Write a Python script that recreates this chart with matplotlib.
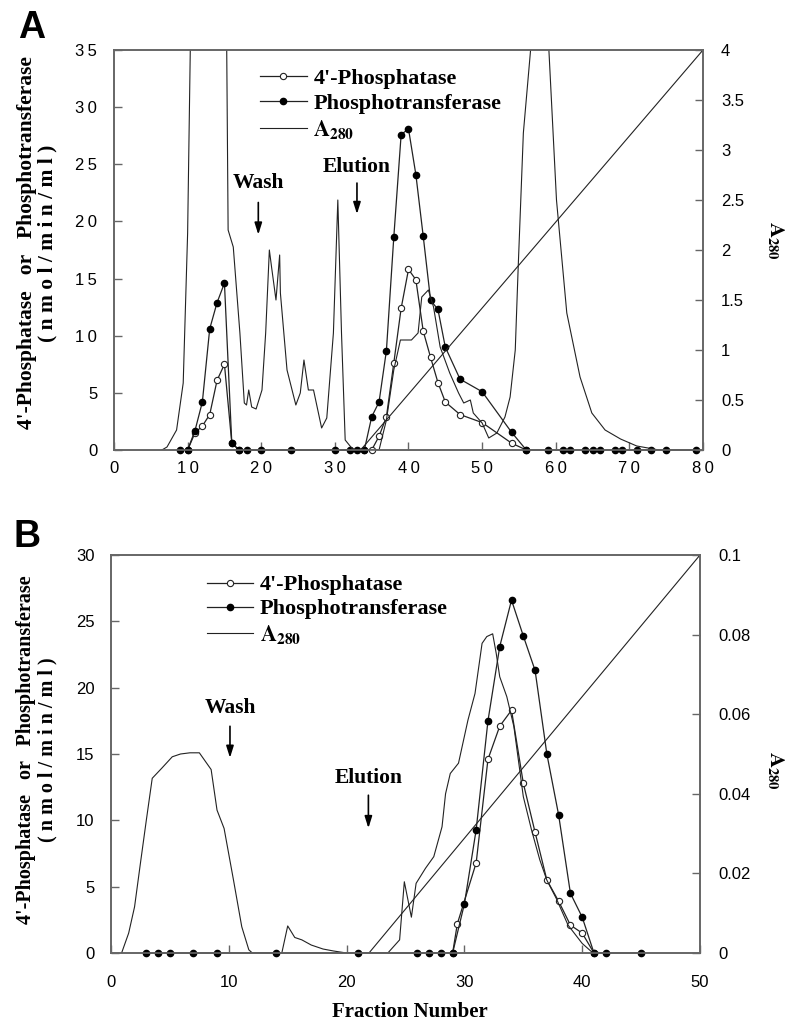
import numpy as np
import matplotlib.pyplot as plt

plt.rcParams['font.family'] = ['Liberation Sans', 'DejaVu Sans']
plt.rcParams['mathtext.fontset'] = 'stix'

# ---- Panel A data ----
a_pt_x = [9, 10, 11, 12, 13, 14, 15, 16, 17, 18, 20, 24, 30, 32, 33, 34, 35, 36, 37, 38, 39, 40,
          41, 42, 43, 44, 45, 47, 50, 54, 56, 59, 61, 62, 64, 65, 66, 68, 69, 71, 73, 75, 79]
a_pt_y = [0, 0, 1.7, 4.2, 10.6, 12.9, 14.6, 0.6, 0, 0, 0, 0, 0, 0, 0, 0, 2.9, 4.2, 8.7, 18.6, 27.6, 28.1,
          24.1, 18.7, 13.1, 12.3, 9.0, 6.2, 5.1, 1.55, 0, 0, 0, 0, 0, 0, 0, 0, 0, 0, 0, 0, 0]
a_ph_x = [10, 11, 12, 13, 14, 15, 16, 17, 34, 35, 36, 37, 38, 39, 40, 41, 42, 43, 44, 45, 47, 50, 54, 56]
a_ph_y = [0, 1.5, 2.1, 3.1, 6.1, 7.5, 0.6, 0, 0, 0, 1.2, 2.9, 7.6, 12.4, 15.8, 14.9, 10.4, 8.1, 5.9, 4.2,
          3.1, 2.4, 0.6, 0]
a_abs_x = [6.5, 7.2, 8.5, 9.4, 10.0, 10.4, 11, 13, 15, 15.3, 15.5, 16.2, 17.1, 17.7, 18.0, 18.3, 18.7,
           19.3, 20.1, 20.6, 21.1, 21.4, 22.0, 22.5, 22.6, 23.5, 24.7, 25.3, 25.8, 26.4, 27.1, 28.2,
           28.9, 29.8, 30.4, 30.9, 31.4, 32.5, 36.0, 37.0, 38.0, 38.9, 40.4, 41.3, 41.8, 42.7, 43.4,
           44.3, 45.6, 46.8, 47.5, 48.4, 48.8, 50.0, 50.9, 52.0, 53.1, 53.8, 54.5, 54.9, 55.6, 56.7,
           57.5, 58.5, 59.0, 60.1, 61.5, 63.3, 64.9, 66.7, 68.8, 71.0, 73.3, 74.0]
a_abs_y = [0, 0.03, 0.2, 0.67, 2.17, 4.2, 6, 7, 5, 4.1, 2.2, 2.03, 1.17, 0.47, 0.45, 0.6, 0.43,
           0.41, 0.6, 1.17, 2.0, 1.83, 1.5, 1.95, 1.57, 0.8, 0.45, 0.57, 0.9, 0.6, 0.6, 0.22,
           0.32, 1.17, 2.5, 1.17, 0.1, 0, 0, 0.3, 0.8, 1.1, 1.1, 1.17, 1.53, 1.6, 1.43,
           1.03, 0.77, 0.57, 0.47, 0.5, 0.37, 0.27, 0.12, 0.17, 0.33, 0.53, 1.0, 1.83, 3.17, 4.1,
           5.5, 5.5, 4.1, 2.5, 1.37, 0.73, 0.37, 0.2, 0.11, 0.04, 0.01, 0]
a_grad_x = [33.5, 80]
a_grad_y = [0, 4]

# ---- Panel B data ----
b_pt_x = [3, 4, 5, 7, 9, 14, 21, 26, 27, 28, 29, 30, 31, 32, 33, 34, 35, 36, 37, 38, 39, 40, 41, 42, 45]
b_pt_y = [0, 0, 0, 0, 0, 0, 0, 0, 0, 0, 0, 3.7, 9.3, 17.5, 23.1, 26.6, 23.9, 21.3, 15.0, 10.4, 4.5,
          2.7, 0, 0, 0]
b_ph_x = [29, 29.4, 31, 32, 33, 34, 35, 36, 37, 38, 39, 40, 41]
b_ph_y = [0, 2.2, 6.8, 14.6, 17.1, 18.3, 12.8, 9.1, 5.5, 3.9, 2.1, 1.5, 0]
b_abs_x = [0.9, 1.5, 2.0, 2.5, 3.0, 3.5, 4.3, 5.2, 5.9, 6.7, 7.5, 8.5, 9.0, 9.6, 10.4, 11.1, 11.7,
           12.0, 14.5, 15.0, 15.6, 16.2, 17.0, 18.0, 18.9, 20.0, 23.5, 24.5, 24.9, 25.5, 25.9, 26.7,
           27.4, 28.1, 28.4, 28.8, 29.5, 30.3, 30.9, 31.5, 31.9, 32.4, 32.7, 33.0, 33.6, 34.2, 35.0,
           35.7, 36.4, 37.0, 37.8, 38.8, 40.0, 40.8, 41.9]
b_abs_y = [0, 0.005, 0.0116, 0.0226, 0.0334, 0.0439, 0.0464, 0.0493, 0.05, 0.0503, 0.0503, 0.0461,
           0.0359, 0.0313, 0.0183, 0.0066, 0.0008, 0, 0, 0.0068, 0.0039, 0.0033, 0.002, 0.001,
           0.0005, 0, 0, 0.0033, 0.0179, 0.009, 0.0175, 0.0213, 0.0242, 0.0317, 0.040, 0.0451,
           0.0477, 0.0585, 0.0652, 0.0778, 0.0795, 0.0802, 0.0753, 0.0694, 0.0644, 0.0569, 0.0393,
           0.0309, 0.0234, 0.0183, 0.0137, 0.007, 0.0024, 0.0003, 0]
b_grad_x = [21.9, 50]
b_grad_y = [0, 0.1]

serif = 'Liberation Serif'
lc = '#222222'
spine_c = '#666666'
a280 = r'$\mathbf{A}_{\mathbf{280}}$'

fig = plt.figure(figsize=(8, 10.31), dpi=100)


def panel(rect, ph_x, ph_y, pt_x, pt_y, ab_x, ab_y, gr_x, gr_y, xmax, ymax, rmax, xpad):
    ax = fig.add_axes(rect)
    ax2 = ax.twinx()
    ax.plot(ph_x, ph_y, '-o', color=lc, lw=0.9, ms=4.5, mfc='white', mec=lc, mew=0.8,
            clip_on=False, zorder=3, label="4'-Phosphatase")
    ax.plot(pt_x, pt_y, '-o', color=lc, lw=0.9, ms=4.5, mfc='black', mec='black',
            clip_on=False, zorder=4, label='Phosphotransferase')
    ax2.plot(ab_x, ab_y, '-', color=lc, lw=0.8, label=a280)
    ax2.plot(gr_x, gr_y, '-', color=lc, lw=0.8)
    ax.set_xlim(0, xmax)
    ax.set_ylim(0, ymax)
    ax2.set_ylim(0, rmax)
    for a in (ax, ax2):
        for s in a.spines.values():
            s.set_color(spine_c)
            s.set_linewidth(1.2)
    ax.tick_params(direction='in', length=6, color=spine_c, labelsize=12, width=1)
    ax.tick_params(axis='y', pad=12)
    ax.tick_params(axis='x', pad=xpad)
    ax2.tick_params(direction='in', length=6, color=spine_c, labelsize=12, width=1, pad=13)
    h1, l1 = ax.get_legend_handles_labels()
    h2, l2 = ax2.get_legend_handles_labels()
    return ax, ax2, h1 + h2, l1 + l2


def arrow(ax, text, x, ytext, y0, y1):
    ax.text(x, ytext, text, family=serif, fontweight='bold', fontsize=15.5, ha='center', va='center')
    ax.annotate('', xy=(x, y1), xytext=(x, y0),
                arrowprops=dict(arrowstyle='-|>,head_length=0.7,head_width=0.22',
                                color='black', lw=1.2))


legend_kw = dict(loc='upper left', frameon=False, handlelength=2.1, handletextpad=0.3,
                 borderpad=0, borderaxespad=0,
                 prop={'family': serif, 'weight': 'bold', 'size': 16})

# ---- Panel A ----
axA, axA2, h, l = panel([114 / 800, 1 - 450 / 1031, 589 / 800, 400 / 1031],
                        a_ph_x, a_ph_y, a_pt_x, a_pt_y, a_abs_x, a_abs_y, a_grad_x, a_grad_y,
                        80, 35, 4, 8)
axA.set_xticks(np.arange(0, 81, 10))
axA.set_xticklabels(['\u2009'.join(str(v)) for v in range(0, 81, 10)])
axA.set_yticks(np.arange(0, 36, 5))
axA.set_yticklabels(['\u2009'.join(str(v)) for v in range(0, 36, 5)])
axA2.set_yticks(np.arange(0, 4.01, 0.5))
axA2.set_yticklabels(['0', '0.5', '1', '1.5', '2', '2.5', '3', '3.5', '4'])
axA2.legend(h, l, bbox_to_anchor=(0.248, 0.955), labelspacing=0.2, **legend_kw)
arrow(axA, 'Wash', 19.6, 23.4, 21.9, 18.6)
arrow(axA, 'Elution', 33.0, 24.8, 23.6, 20.4)

# ---- Panel B ----
axB, axB2, h, l = panel([111 / 800, 1 - 953 / 1031, 589 / 800, 398 / 1031],
                        b_ph_x, b_ph_y, b_pt_x, b_pt_y, b_abs_x, b_abs_y, b_grad_x, b_grad_y,
                        50, 30, 0.1, 16)
axB.set_xticks(np.arange(0, 51, 10))
axB.set_yticks(np.arange(0, 31, 5))
axB2.set_yticks([0, 0.02, 0.04, 0.06, 0.08, 0.1])
axB2.set_yticklabels(['0', '0.02', '0.04', '0.06', '0.08', '0.1'])
axB2.legend(h, l, bbox_to_anchor=(0.1625, 0.95), labelspacing=0.15, **legend_kw)
arrow(axB, 'Wash', 10.1, 18.5, 17.3, 14.5)
arrow(axB, 'Elution', 21.85, 13.2, 12.1, 9.2)

# ---- labels ----
fig.text(32 / 800, 1 - 28 / 1031, 'A', fontsize=27, fontweight='bold', ha='center', va='center')
fig.text(27 / 800, 1 - 537 / 1031, 'B', fontsize=27, fontweight='bold', ha='center', va='center')
unit = ' '.join('(nmol/min/ml)')
fig.text(37 / 800, 1 - 243 / 1031, "4'-Phosphatase   or   Phosphotransferase\n" + unit,
         rotation=90, ha='center', va='center', multialignment='center', family=serif,
         fontweight='bold', fontsize=15.5, linespacing=1.05)
fig.text(37 / 800, 1 - 750 / 1031, "4'-Phosphatase   or   Phosphotransferase\n" + unit,
         rotation=90, ha='center', va='center', multialignment='center', family=serif,
         fontweight='bold', fontsize=14.5, linespacing=1.1)
for yc in (240, 770):
    fig.text(775 / 800, 1 - yc / 1031, a280, rotation=270, ha='center', va='center', fontsize=15)
fig.text(410 / 800, 1 - 1012 / 1031, 'Fraction Number', ha='center', va='center',
         family=serif, fontweight='bold', fontsize=15)

fig.savefig('out.png', dpi=100)
